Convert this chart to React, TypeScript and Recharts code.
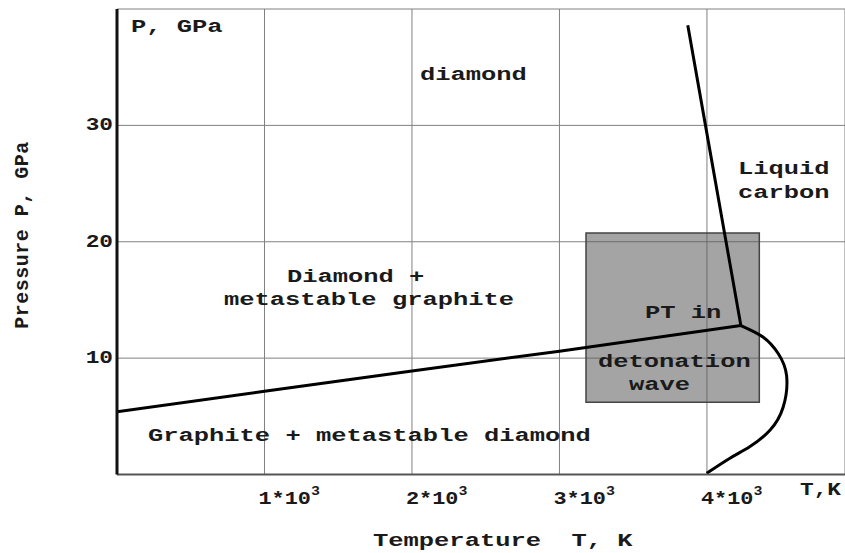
import React from "react";
import {
  ComposedChart,
  Line,
  Scatter,
  XAxis,
  YAxis,
  CartesianGrid,
  ReferenceArea,
  Label,
} from "recharts";

const FONT = "'Liberation Mono', 'DejaVu Sans Mono', monospace";

const xTicks = [1000, 2000, 3000, 4000];
const yTicks = [10, 20, 30, 40];

// graphite / diamond equilibrium line, T in K, P in GPa
const graphiteDiamond = [
  { t: 0, p: 5.4 },
  { t: 1000, p: 7.15 },
  { t: 2000, p: 8.9 },
  { t: 3000, p: 10.6 },
  { t: 4230, p: 12.8 },
];

// diamond melting line
const diamondMelt = [
  { t: 4230, p: 12.8 },
  { t: 3990, p: 30 },
  { t: 3870, p: 38.6 },
];

// graphite melting curve
const graphiteMelt = [
  { t: 4230, p: 12.8 },
  { t: 4382, p: 11.8 },
  { t: 4483, p: 10.4 },
  { t: 4540, p: 8.5 },
  { t: 4517, p: 5.8 },
  { t: 4427, p: 3.8 },
  { t: 4292, p: 2.4 },
  { t: 4156, p: 1.4 },
  { t: 3998, p: 0.1 },
];

// PT range in the detonation wave
const detonationBox = { t1: 3180, t2: 4355, p1: 6.2, p2: 20.76 };

const notes = [
  { t: 95, p: 38.45, text: "P, GPa" },
  { t: 2054, p: 34.3, text: "diamond" },
  { t: 4210, p: 26.3, text: "Liquid" },
  { t: 4210, p: 24.2, text: "carbon" },
  { t: 1152, p: 16.98, text: "Diamond +" },
  { t: 725, p: 14.98, text: "metastable graphite" },
  { t: 3580, p: 13.86, text: "PT in" },
  { t: 3261, p: 9.66, text: "detonation" },
  { t: 3471, p: 7.68, text: "wave" },
  { t: 210, p: 3.3, text: "Graphite + metastable diamond" },
];

const textStyle = {
  fontFamily: FONT,
  fontWeight: 700,
  fontSize: 19,
  fill: "#1a1a1a",
};

// the scan's monospace lettering is wide, so stretch it horizontally
const WideText = ({ x, y, anchor = "start", stretch = 1.34, spacing = 0, children }: any) => (
  <text
    transform={`translate(${x},${y}) scale(${stretch},1)`}
    x={0}
    y={0}
    textAnchor={anchor}
    dominantBaseline="central"
    style={{ ...textStyle, letterSpacing: spacing }}
    xmlSpace="preserve"
  >
    {children}
  </text>
);

const renderNote = (props: any) => {
  const { cx, cy, payload } = props;
  return (
    <WideText x={cx} y={cy}>
      {payload.text}
    </WideText>
  );
};

const YTick = (props: any) => {
  const { y, payload } = props;
  if (payload.value === 40) return null;
  return (
    <WideText x={113} y={y} anchor="end" stretch={1.2}>
      {payload.value}
    </WideText>
  );
};

const XTick = (props: any) => {
  const { x, y, payload } = props;
  return (
    <WideText x={x - 6} y={y + 16} stretch={1.15}>
      {`${payload.value / 1000}*10`}
      <tspan dy={-7} fontSize={13}>3</tspan>
    </WideText>
  );
};

const XLabel = (props: any) => {
  const { x, y } = props.viewBox;
  return (
    <g>
      <WideText x={x + 683} y={y + 15.5} stretch={1.2}>
        T,K
      </WideText>
      <WideText x={x + 256} y={y + 66.5}>
        {"Temperature  T, K"}
      </WideText>
    </g>
  );
};

const YLabel = () => (
  <text
    x={22}
    y={235}
    transform="rotate(-90 22 235)"
    textAnchor="middle"
    dominantBaseline="central"
    style={{ ...textStyle, fontSize: 20, letterSpacing: 0.5 }}
    xmlSpace="preserve"
  >
    {"Pressure P, GPa"}
  </text>
);

export default function App() {
  return (
    <div style={{ position: "absolute", left: 0, top: 0, background: "#fff" }}>
      <ComposedChart width={845} height={553} margin={{ top: 9, right: 0, left: 0, bottom: 0 }}>
        <CartesianGrid stroke="#808080" strokeWidth={1} />
        <XAxis
          type="number"
          dataKey="t"
          domain={[0, 4936]}
          ticks={xTicks}
          allowDataOverflow
          height={78.5}
          tickLine={false}
          axisLine={{ stroke: "#555", strokeWidth: 2 }}
          tick={<XTick />}
        >
          <Label content={<XLabel />} />
        </XAxis>
        <YAxis
          type="number"
          dataKey="p"
          domain={[0, 40]}
          ticks={yTicks}
          allowDataOverflow
          width={117}
          tickLine={false}
          axisLine={{ stroke: "#111", strokeWidth: 3 }}
          tick={<YTick />}
        >
          <Label content={<YLabel />} />
        </YAxis>
        <ReferenceArea
          x1={detonationBox.t1}
          x2={detonationBox.t2}
          y1={detonationBox.p1}
          y2={detonationBox.p2}
          fill="#5a5a5a"
          fillOpacity={0.55}
          stroke="#444"
          strokeWidth={1.5}
        />
        <Line data={graphiteDiamond} dataKey="p" type="linear" stroke="#000" strokeWidth={3} dot={false} isAnimationActive={false} />
        <Line data={diamondMelt} dataKey="p" type="linear" stroke="#000" strokeWidth={3} dot={false} isAnimationActive={false} />
        <Line data={graphiteMelt} dataKey="p" type="natural" stroke="#000" strokeWidth={3} dot={false} isAnimationActive={false} />
        <Scatter data={notes} dataKey="p" shape={renderNote} isAnimationActive={false} />
      </ComposedChart>
    </div>
  );
}
